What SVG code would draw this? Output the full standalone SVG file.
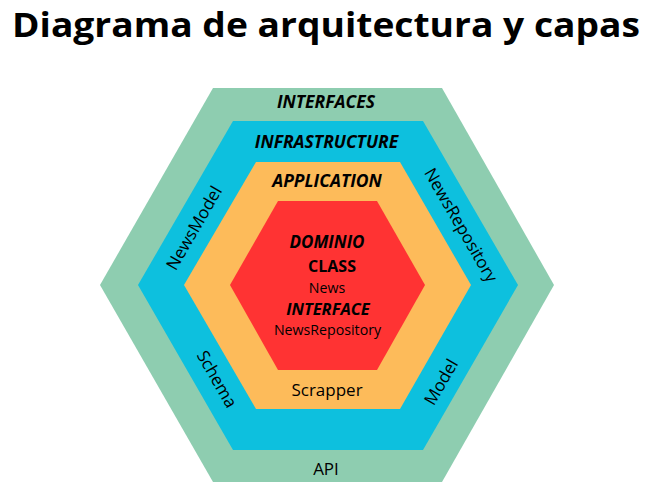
<svg xmlns="http://www.w3.org/2000/svg" width="669" height="501" viewBox="0 0 669 501">
<style>
text{font-family:"Open Sans","Noto Sans","Liberation Sans",sans-serif;fill:#000;text-anchor:middle}
.title{font-size:34px;font-weight:700}
.layer{font-size:17.5px;font-weight:700;font-style:italic}
.bi{font-size:17px;font-weight:700;font-style:italic}
.b{font-size:16px;font-weight:700}
.r{font-size:14.2px}
.lbl{font-size:17px}
</style>
<rect width="669" height="501" fill="#fff"/>
<text class="title" x="326" y="37" textLength="628" lengthAdjust="spacingAndGlyphs">Diagrama de arquitectura y capas</text>
<g id="interfaces">
<polygon points="213,88 442,88 554,285 442,482 213,482 100,285" fill="#8ECDB0"/>
<text class="layer" x="326" y="108">INTERFACES</text>
<text class="lbl" x="326" y="475">API</text>
</g>
<g id="infrastructure">
<polygon points="233,121 423,121 518,285 423,450 233,450 138,285" fill="#0DC0DE"/>
<text class="layer" x="326.5" y="148">INFRASTRUCTURE</text>
<text class="lbl" transform="translate(194,228) rotate(-60)" y="6">NewsModel</text>
<text class="lbl" transform="translate(461,225) rotate(60)" y="6">NewsRepository</text>
<text class="lbl" transform="translate(217,379) rotate(60)" y="6">Schema</text>
<text class="lbl" transform="translate(441,382) rotate(-60)" y="6">Model</text>
</g>
<g id="application">
<polygon points="256,162 400,162 471,285 400,409 256,409 184,285" fill="#FDBB5A"/>
<text class="layer" x="327" y="187">APPLICATION</text>
<text class="lbl" x="327" y="396">Scrapper</text>
</g>
<g id="dominio">
<polygon points="278,201 377,201 425,285 377,370 278,370 230,285" fill="#FF3333"/>
<text class="bi" x="327" y="248">DOMINIO</text>
<text class="b" x="332" y="272">CLASS</text>
<text class="r" x="327" y="293">News</text>
<text class="bi" x="328" y="315" style="font-size:16.5px">INTERFACE</text>
<text class="r" x="327.5" y="335">NewsRepository</text>
</g>
<g id="connectors"></g>
</svg>
